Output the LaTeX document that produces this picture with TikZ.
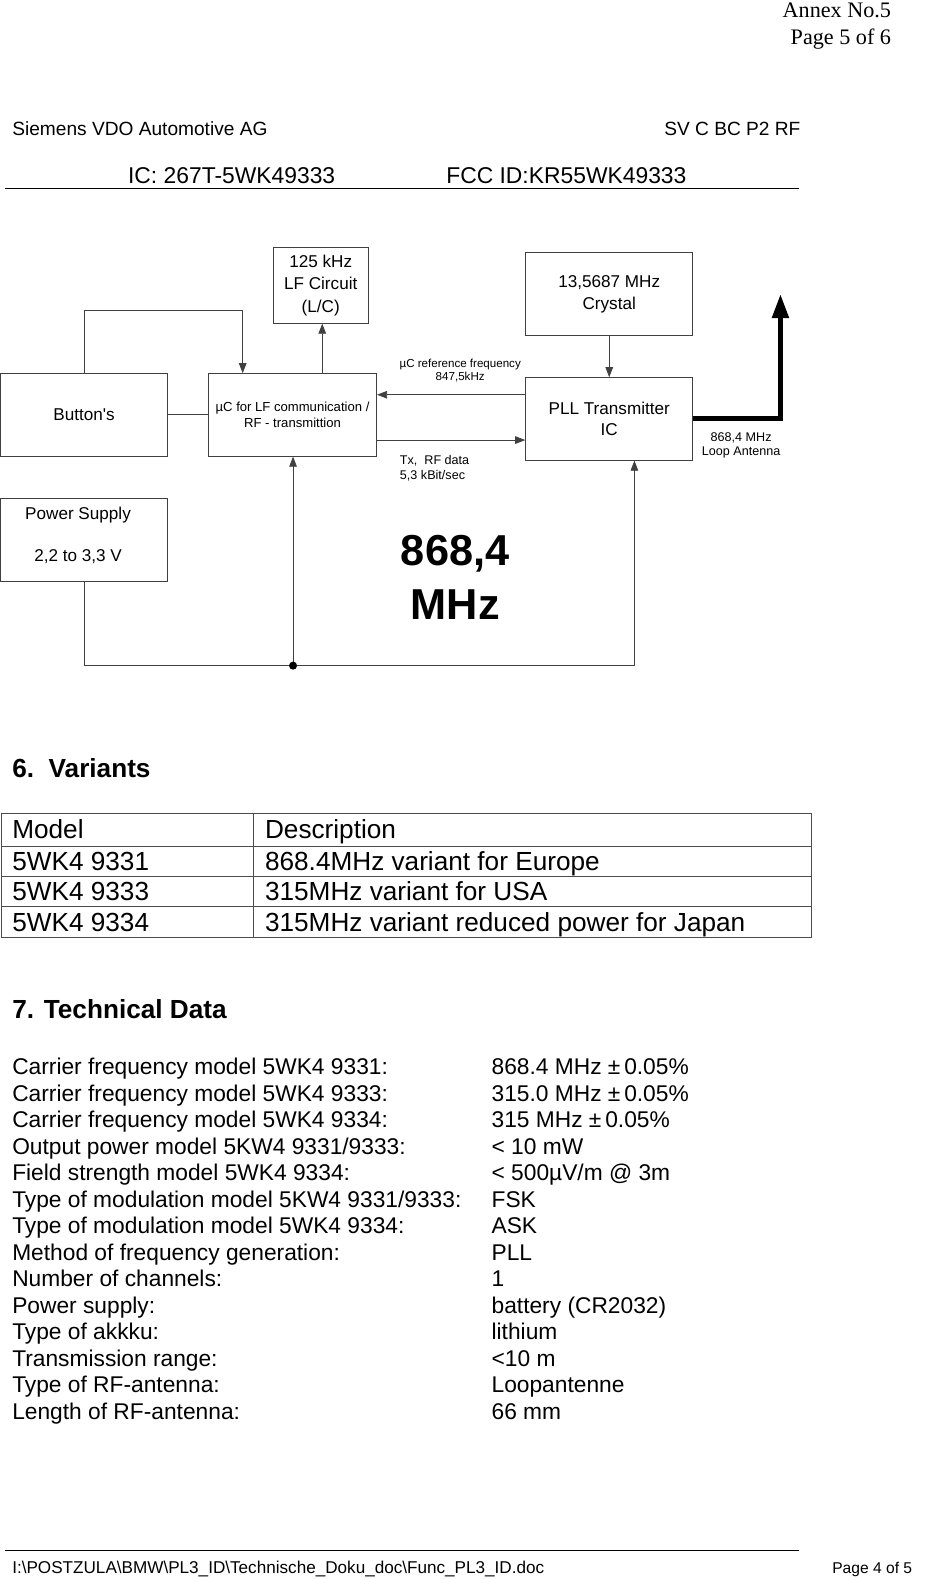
\documentclass[tikz,border=0pt]{standalone}
\usepackage{fontspec}
\setmainfont{Liberation Sans}
\newfontfamily\seriff{Liberation Serif}
\usetikzlibrary{arrows.meta}
\begin{document}
\begin{tikzpicture}[x=1pt,y=-1pt,
  box/.style={draw=black!75, line width=0.8pt, align=center, inner sep=0pt},
  arr/.style={draw=black!75, line width=0.8pt, -{Triangle[length=10pt,width=7.5pt]}},
  plain/.style={draw=black!75, line width=0.8pt},
  ant/.style={draw=black, line width=5pt, -{Triangle[length=24pt,width=16pt]}},
  txt/.style={inner sep=0pt, anchor=base west},
  f17/.style={font=\fontsize{17}{22}\selectfont},
  f19/.style={font=\fontsize{19}{23}\selectfont},
  td/.style={txt, font=\fontsize{22.6}{26}\selectfont},
  tb/.style={txt, font=\fontsize{26}{30}\selectfont},
  hd/.style={txt, font=\fontsize{26}{30}\selectfont\bfseries},
  tline/.style={draw=black!70, line width=0.8pt}]
\useasboundingbox (0,0) rectangle (922,1568);
\fill[white] (0,0) rectangle (922,1568);

% page header
\node[inner sep=0pt, anchor=base east, font=\seriff\fontsize{22}{26}\selectfont] (annex) at (885,17) {Annex No.5};
\node[inner sep=0pt, anchor=base east, font=\seriff\fontsize{22}{26}\selectfont] (page) at (885,44) {Page 5 of 6};
\node[txt, f19] (siemens) at (12,135) {Siemens VDO Automotive AG};
\node[inner sep=0pt, anchor=base east, f19] (svc) at (795,135) {SV C BC P2 RF};
\node[txt, font=\fontsize{22.7}{26}\selectfont] (ic) at (127,182) {IC: 267T-5WK49333};
\node[txt, font=\fontsize{22.7}{26}\selectfont] (fcc) at (443,182) {FCC ID:KR55WK49333};
\draw[line width=1.5pt] (5,187) -- (793,187);

% block diagram
\node[box, minimum width=95pt, minimum height=75pt, font=\fontsize{17}{22.5}\selectfont] (lf) at (318.5,283.5) {125 kHz\\LF Circuit\\(L/C)};
\node[box, minimum width=166pt, minimum height=82pt, f17] (btn) at (83.5,412) {Button\textquotesingle s};
\node[box, minimum width=167pt, minimum height=82pt, font=\fontsize{13}{16}\selectfont] (uc) at (290.5,412) {µC for LF communication /\\RF - transmittion};
\node[box, minimum width=166pt, minimum height=82pt, font=\fontsize{17}{22}\selectfont] (cr) at (605,292) {13,5687 MHz\\Crystal};
\node[box, minimum width=166pt, minimum height=82pt, font=\fontsize{17}{21}\selectfont] (pll) at (605,416) {PLL Transmitter\\IC};
\node[box, minimum width=166pt, minimum height=82pt, f17] (ps) at (83.5,536) {Power Supply\hspace*{12pt}\\[20pt]2,2 to 3,3 V\hspace*{12pt}\rule[-11pt]{0pt}{1pt}};

\draw[plain] (btn) -- (uc);
\draw[arr] (btn.north) -- ++(0,-62) -| ([xshift=-49.5pt]uc.north);
\draw[arr] ([xshift=29.5pt]uc.north) -- ([xshift=29.5pt]uc.north |- lf.south);
\draw[arr] (cr.south) -- (pll.north);
\draw[arr] ([yshift=24pt]pll.west) -- ([yshift=24pt]pll.west -| uc.east);
\draw[arr] ([yshift=-25pt]uc.east) -- ([yshift=-25pt]uc.east -| pll.west);
\coordinate (antTip) at (775,292);
\draw[ant] (pll.east) -| (antTip);
\coordinate (j) at (291,661);
\draw[arr] (ps.south) |- (j) -| ([xshift=25pt]pll.south);
\draw[arr] (j) -- (j |- uc.south);
\fill (j) circle (4pt);

\node[inner sep=0pt, align=center, font=\fontsize{11.5}{13}\selectfont] (reflbl) at (457,368) {µC reference frequency\\847,5kHz};
\node[inner sep=0pt, align=left, anchor=west, font=\fontsize{12.5}{14}\selectfont] (txlbl) at (397,465) {Tx,\ \ RF data\\5,3 kBit/sec};
\node[inner sep=0pt, align=center, font=\fontsize{12.5}{14}\selectfont] (antlbl) at (736,442) {868,4 MHz\\Loop Antenna};
\node[inner sep=0pt, anchor=base, font=\fontsize{43}{53}\selectfont\bfseries] (big1) at (452,562) {868,4};
\node[inner sep=0pt, anchor=base, font=\fontsize{43}{53}\selectfont\bfseries] (big2) at (452,615) {MHz};

% 6. Variants
\node[hd] (h6) at (12,772) {6.\ \ Variants};
\draw[tline] (1,808) rectangle (806,931);
\draw[tline] (1,840) -- (806,840);
\draw[tline] (1,870) -- (806,870);
\draw[tline] (1,900) -- (806,900);
\draw[tline] (252,808) -- (252,931);
\node[tb] (m0) at (12,833) {Model};
\node[tb] (d0) at (263,833) {Description};
\node[tb] (m1) at (12,864) {5WK4 9331};
\node[tb] (d1) at (263,864) {868.4MHz variant for Europe};
\node[tb] (m2) at (12,894) {5WK4 9333};
\node[tb] (d2) at (263,894) {315MHz variant for USA};
\node[tb] (m3) at (12,925) {5WK4 9334};
\node[tb] (d3) at (263,925) {315MHz variant reduced power for Japan};

% 7. Technical data
\node[hd] (h7) at (12,1011) {7. Technical Data};
\node[td] (k1) at (12,1067.3) {Carrier frequency model 5WK4 9331:};
\node[td] (v1) at (488,1067.3) {868.4 MHz ±\,0.05\%};
\node[td] (k2) at (12,1093.6) {Carrier frequency model 5WK4 9333:};
\node[td] (v2) at (488,1093.6) {315.0 MHz ±\,0.05\%};
\node[td] (k3) at (12,1119.9) {Carrier frequency model 5WK4 9334:};
\node[td] (v3) at (488,1119.9) {315 MHz ±\,0.05\%};
\node[td] (k4) at (12,1146.2) {Output power model 5KW4 9331/9333:};
\node[td] (v4) at (488,1146.2) {< 10 mW};
\node[td] (k5) at (12,1172.5) {Field strength model 5WK4 9334:};
\node[td] (v5) at (488,1172.5) {< 500µV/m @ 3m};
\node[td] (k6) at (12,1198.8) {Type of modulation model 5KW4 9331/9333:};
\node[td] (v6) at (488,1198.8) {FSK};
\node[td] (k7) at (12,1225.1) {Type of modulation model 5WK4 9334:};
\node[td] (v7) at (488,1225.1) {ASK};
\node[td] (k8) at (12,1251.4) {Method of frequency generation:};
\node[td] (v8) at (488,1251.4) {PLL};
\node[td] (k9) at (12,1277.7) {Number of channels:};
\node[td] (v9) at (488,1277.7) {1};
\node[td] (k10) at (12,1304.0) {Power supply:};
\node[td] (v10) at (488,1304.0) {battery (CR2032)};
\node[td] (k11) at (12,1330.3) {Type of akkku:};
\node[td] (v11) at (488,1330.3) {lithium};
\node[td] (k12) at (12,1356.6) {Transmission range:};
\node[td] (v12) at (488,1356.6) {<10 m};
\node[td] (k13) at (12,1382.9) {Type of RF-antenna:};
\node[td] (v13) at (488,1382.9) {Loopantenne};
\node[td] (k14) at (12,1409.2) {Length of RF-antenna:};
\node[td] (v14) at (488,1409.2) {66 mm};

% footer
\draw[line width=1pt] (5,1540) -- (793,1540);
\node[txt, font=\fontsize{17}{20}\selectfont] (path) at (12,1563) {I:\textbackslash POSTZULA\textbackslash BMW\textbackslash PL3\_ID\textbackslash Technische\_Doku\_doc\textbackslash Func\_PL3\_ID.doc};
\node[inner sep=0pt, anchor=base east, font=\fontsize{15.5}{20}\selectfont] (pg) at (906,1563) {Page 4 of 5};
\end{tikzpicture}
\end{document}
